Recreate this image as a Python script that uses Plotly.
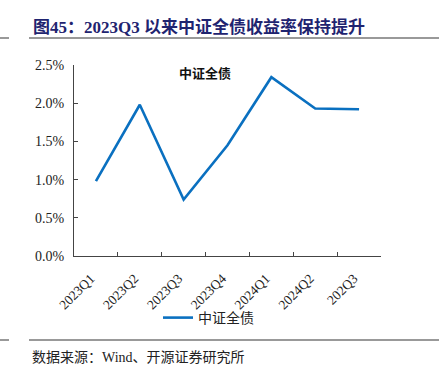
import plotly.graph_objects as go

categories = ["2023Q1", "2023Q2", "2023Q3", "2023Q4", "2024Q1", "2024Q2", "202Q3"]
values = [0.98, 1.98, 0.74, 1.45, 2.34, 1.93, 1.92]
series_name = "中证全债"
y_tick_vals = [0.0, 0.5, 1.0, 1.5, 2.0, 2.5]
y_tick_text = ["0.0%", "0.5%", "1.0%", "1.5%", "2.0%", "2.5%"]
header = "图45：2023Q3 以来中证全债收益率保持提升"
source = "数据来源：Wind、开源证券研究所"

W, H = 439, 379
L, R, T, B = 74, 381, 65, 256

def xp(px):
    return (px - L) / (R - L)

def yp(py):
    return (B - py) / (B - T)

serif = "Liberation Serif, Times New Roman, Noto Sans CJK SC, serif"
cjk = "Noto Sans CJK SC, sans-serif"

fig = go.Figure()
fig.add_trace(go.Scatter(
    x=categories, y=values, mode="lines", name=series_name,
    line=dict(color="#0A70C0", width=2.6),
))

label_shift = 0.12

fig.update_layout(
    width=W, height=H,
    margin=dict(l=L, r=W - R, t=T, b=H - B, autoexpand=False),
    paper_bgcolor="white", plot_bgcolor="white",
    showlegend=True,
    legend=dict(orientation="h", x=xp(158), y=yp(318), xanchor="left", yanchor="middle",
                font=dict(family=cjk, size=14, color="#222"),
                itemwidth=30, tracegroupgap=0, bgcolor="rgba(0,0,0,0)"),
    xaxis=dict(
        type="category", range=[-0.5, len(categories) - 0.5],
        showline=True, linecolor="#444", linewidth=1.2,
        ticks="inside", ticklen=4, tickcolor="#444",
        tickmode="array", tickvals=[i - 0.5 for i in range(len(categories) + 1)],
        ticktext=[""] * (len(categories) + 1),
        showgrid=False, zeroline=False, automargin=False,
    ),
    xaxis2=dict(
        type="category", range=[-0.5 + label_shift, len(categories) - 0.5 + label_shift],
        overlaying="x",
        side="bottom", tickangle=-45, showline=False, ticks="",
        tickfont=dict(family=serif, size=13.5, color="#222"),
        showgrid=False, zeroline=False, anchor="y", automargin=False,
        ticklabelstandoff=11,
    ),
    yaxis=dict(
        range=[0, 2.5], tickmode="array", tickvals=y_tick_vals, ticktext=y_tick_text,
        showline=True, linecolor="#444", linewidth=1.2,
        ticks="inside", ticklen=4, tickcolor="#444",
        tickfont=dict(family=serif, size=14, color="#222"),
        showgrid=False, zeroline=False, automargin=False, ticklabelstandoff=6,
    ),
)

# invisible trace to carry the category labels on xaxis2
fig.add_trace(go.Scatter(x=categories, y=values, xaxis="x2", mode="lines",
                         line=dict(width=0), opacity=0, showlegend=False, hoverinfo="skip"))

fig.add_annotation(text="<b>" + series_name + "</b>", xref="paper", yref="paper", x=xp(205), y=yp(72),
                   showarrow=False, font=dict(family=cjk, size=13, color="#111"),
                   xanchor="center", yanchor="middle")

fig.add_annotation(text="<b>" + header + "</b>", xref="paper", yref="paper",
                   x=xp(31), y=yp(27), showarrow=False, xanchor="left", yanchor="middle",
                   font=dict(family=serif, size=17, color="#1F2470"))

fig.add_annotation(text=source, xref="paper", yref="paper",
                   x=xp(30), y=yp(357), showarrow=False, xanchor="left", yanchor="middle",
                   font=dict(family=serif, size=14, color="#222"))

for yy in (38, 340):
    fig.add_shape(type="line", xref="paper", yref="paper", x0=xp(29), x1=xp(439),
                  y0=yp(yy), y1=yp(yy), line=dict(color="#777", width=1.5))
    fig.add_shape(type="line", xref="paper", yref="paper", x0=xp(0), x1=xp(9),
                  y0=yp(yy), y1=yp(yy), line=dict(color="#777", width=1.5))

fig.write_html("out.html", config={"displayModeBar": False},
               post_script="document.body.style.margin='0';document.body.style.overflow='hidden';")
